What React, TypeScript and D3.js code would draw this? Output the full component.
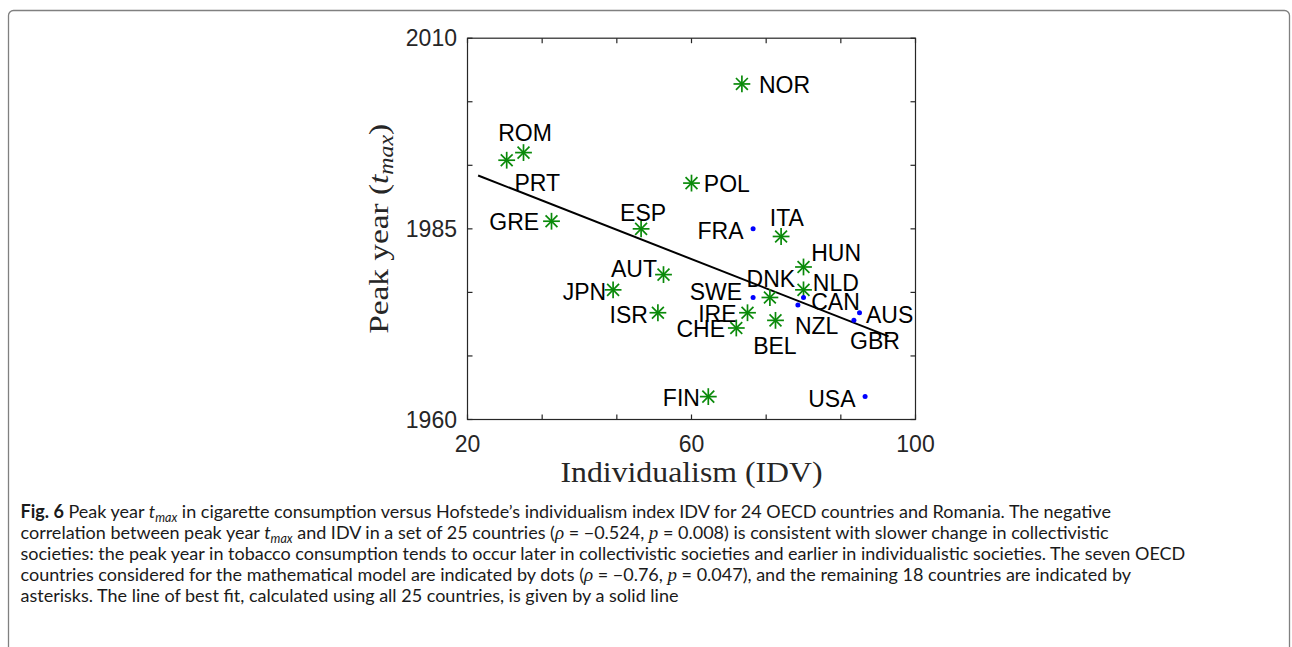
import React from 'react';
import * as d3 from 'd3';

// countries, Hofstede individualism index and peak year of cigarette consumption
const countries = ['NOR', 'ROM', 'PRT', 'GRE', 'ESP', 'POL', 'FRA', 'ITA', 'HUN', 'AUT', 'JPN', 'ISR',
  'SWE', 'DNK', 'NLD', 'CAN', 'NZL', 'IRE', 'BEL', 'CHE', 'AUS', 'GBR', 'FIN', 'USA'];
const idv = [69, 30, 27, 35, 51, 60, 71, 76, 80, 55, 46, 54, 71, 74, 80, 80, 79, 70, 75, 68, 90, 89, 63, 91];
const peakYear = [2004, 1995, 1994, 1986, 1985, 1991, 1985, 1984, 1980, 1979, 1977, 1974,
  1976, 1976, 1977, 1976, 1975, 1974, 1973, 1972, 1974, 1973, 1963, 1963];
// the seven OECD countries of the model (dots), the rest are asterisks
const modelCountries = ['FRA', 'SWE', 'CAN', 'NZL', 'AUS', 'GBR', 'USA'];

// line of best fit (all countries)
const fitIdv = [21.9, 95.2];
const fitYear = [1992.0, 1970.9];

const xTickLabels = [20, 60, 100];
const yTickLabels = [1960, 1985, 2010];

const W = 1292;
const H = 647;
const box = { left: 467.5, right: 915.5, top: 38.2, bottom: 419.5 };

// label placement: dx, dy (px from the marker), text-anchor
const labelPlace: Record<string, [number, number, string]> = {
  NOR: [17, 1.3, 'start'], ROM: [1.5, -20, 'middle'], PRT: [7.7, 22.5, 'start'],
  GRE: [-12.3, 1, 'end'], ESP: [2, -16.2, 'middle'], POL: [12.3, 1.3, 'start'],
  FRA: [-9.6, 2.3, 'end'], ITA: [5.7, -18.2, 'middle'], HUN: [7.7, -14, 'start'],
  AUT: [-6.5, -5.6, 'end'], JPN: [-6.9, 2.3, 'end'], ISR: [-10, 2.3, 'end'],
  SWE: [-11, -5.6, 'end'], DNK: [1, -18.3, 'middle'], NLD: [9.3, -6.7, 'start'],
  CAN: [7.7, 5, 'start'], NZL: [-3, 21.3, 'start'], IRE: [-11, 1.3, 'end'],
  BEL: [-0.6, 25.8, 'middle'], CHE: [-11.3, 1.4, 'end'], AUS: [6.5, 2.6, 'start'],
  GBR: [-3.8, 20.5, 'start'], FIN: [-8.4, 1.7, 'end'], USA: [-9.6, 2, 'end'],
};

type Seg = { t: string; b?: boolean; i?: boolean; sub?: boolean; math?: boolean };
const captionLines: Seg[][] = [
  [{ t: 'Fig. 6', b: true }, { t: ' Peak year ' }, { t: 't', i: true }, { t: 'max', i: true, sub: true },
    { t: ' in cigarette consumption versus Hofstede\u2019s individualism index IDV for 24 OECD countries and Romania. The negative' }],
  [{ t: 'correlation between peak year ' }, { t: 't', i: true }, { t: 'max', i: true, sub: true },
    { t: ' and IDV in a set of 25 countries (' }, { t: '\u03c1', math: true }, { t: ' = \u22120.524, ' },
    { t: 'p', math: true }, { t: ' = 0.008) is consistent with slower change in collectivistic' }],
  [{ t: 'societies: the peak year in tobacco consumption tends to occur later in collectivistic societies and earlier in individualistic societies. The seven OECD' }],
  [{ t: 'countries considered for the mathematical model are indicated by dots (' }, { t: '\u03c1', math: true },
    { t: ' = \u22120.76, ' }, { t: 'p', math: true }, { t: ' = 0.047), and the remaining 18 countries are indicated by' }],
  [{ t: 'asterisks. The line of best fit, calculated using all 25 countries, is given by a solid line' }],
];

const axisColor = '#262626';
const green = '#0a8a0a';

function Star({ x, y }: { x: number; y: number }) {
  const r = 8.4;
  const d = r * Math.SQRT1_2;
  return (
    <g stroke={green} strokeWidth={1.7} strokeLinecap="butt">
      <line x1={x - r} y1={y} x2={x + r} y2={y} />
      <line x1={x} y1={y - r} x2={x} y2={y + r} />
      <line x1={x - d} y1={y - d} x2={x + d} y2={y + d} />
      <line x1={x - d} y1={y + d} x2={x + d} y2={y - d} />
    </g>
  );
}

function CaptionLine({ segs, y }: { segs: Seg[]; y: number }) {
  let shifted = false;
  return (
    <text x={20.5} y={y} fontFamily="Lato, 'Open Sans', sans-serif" fontSize={18} fill="#1a1a1a">
      {segs.map((s, k) => {
        let dy = 0;
        if (s.sub && !shifted) { dy = 4; shifted = true; }
        else if (!s.sub && shifted) { dy = -4; shifted = false; }
        return (
          <tspan key={k} dy={dy || undefined}
            fontWeight={s.b ? 700 : undefined}
            fontStyle={s.i || s.math ? 'italic' : undefined}
            fontFamily={s.math ? "'Liberation Serif', serif" : undefined}
            fontSize={s.sub ? 12.5 : s.math ? 19 : undefined}>
            {s.t}
          </tspan>
        );
      })}
    </text>
  );
}

export default function App() {
  const x = d3.scaleLinear().domain([20, 100]).range([box.left, box.right]);
  const y = d3.scaleLinear().domain([1960, 2010]).range([box.bottom, box.top]);

  const xTicks = d3.range(7).map(i => 20 + (i * 80) / 6);
  const yTicks = d3.range(7).map(i => 1960 + (i * 50) / 6);
  const tick = 5;

  const fitLine = d3.line<number>()
    .x(i => x(fitIdv[i]))
    .y(i => y(fitYear[i]))([0, 1]);

  const pts = countries.map((c, i) => ({ c, px: x(idv[i]), py: y(peakYear[i]), dot: modelCountries.includes(c) }));

  return (
    <svg width={W} height={H} style={{ position: 'absolute', left: 0, top: 0, background: '#fff' }}>
      <rect x={8.5} y={10.5} width={1281} height={700} rx={5} fill="none" stroke="#808080" strokeWidth={1.3} />

      {/* axes box and inward ticks */}
      <g stroke={axisColor} strokeWidth={1.2} fill="none">
        <rect x={box.left} y={box.top} width={box.right - box.left} height={box.bottom - box.top} />
        {xTicks.map((t, k) => (
          <g key={'xt' + k}>
            <line x1={x(t)} x2={x(t)} y1={box.bottom} y2={box.bottom - tick} />
            <line x1={x(t)} x2={x(t)} y1={box.top} y2={box.top + tick} />
          </g>
        ))}
        {yTicks.map((t, k) => (
          <g key={'yt' + k}>
            <line x1={box.left} x2={box.left + tick} y1={y(t)} y2={y(t)} />
            <line x1={box.right} x2={box.right - tick} y1={y(t)} y2={y(t)} />
          </g>
        ))}
      </g>

      <g fontFamily="'Liberation Sans', Arial, sans-serif" fontSize={23} fill={axisColor}>
        {xTickLabels.map(t => (
          <text key={t} x={x(t)} y={443.5} textAnchor="middle" dominantBaseline="central">{t}</text>
        ))}
        {yTickLabels.map(t => (
          <text key={t} x={box.left - 10.5} y={y(t)} textAnchor="end" dominantBaseline="central">{t}</text>
        ))}
      </g>

      {/* axis titles */}
      <text x={(box.left + box.right) / 2} y={482} textAnchor="middle"
        fontFamily="'Liberation Serif', 'Times New Roman', serif" fontSize={29} fill={axisColor}
        textLength={262} lengthAdjust="spacingAndGlyphs">
        Individualism (IDV)
      </text>
      <text transform={`translate(388, ${(box.top + box.bottom) / 2}) rotate(-90)`} textAnchor="middle"
        fontFamily="'Liberation Serif', 'Times New Roman', serif" fontSize={28} fill={axisColor}
        textLength={210} lengthAdjust="spacingAndGlyphs">
        <tspan>Peak year (</tspan>
        <tspan fontStyle="italic">t</tspan>
        <tspan fontStyle="italic" fontSize={20} dy={5}>max</tspan>
        <tspan dy={-5}>)</tspan>
      </text>

      {/* fit line */}
      <path d={fitLine || ''} stroke="#000" strokeWidth={2} fill="none" />

      {/* markers */}
      {pts.map(p => p.dot
        ? <circle key={p.c} cx={p.px} cy={p.py} r={2.5} fill="#0000ff" />
        : <Star key={p.c} x={p.px} y={p.py} />)}

      {/* country labels */}
      <g fontFamily="'Liberation Sans', Arial, sans-serif" fontSize={23} fill="#000">
        {pts.map(p => {
          const [dx, dy, anchor] = labelPlace[p.c];
          return (
            <text key={p.c} x={p.px + dx} y={p.py + dy} textAnchor={anchor} dominantBaseline="central">{p.c}</text>
          );
        })}
      </g>

      {captionLines.map((segs, k) => (
        <CaptionLine key={k} segs={segs} y={518 + k * 21} />
      ))}
    </svg>
  );
}
